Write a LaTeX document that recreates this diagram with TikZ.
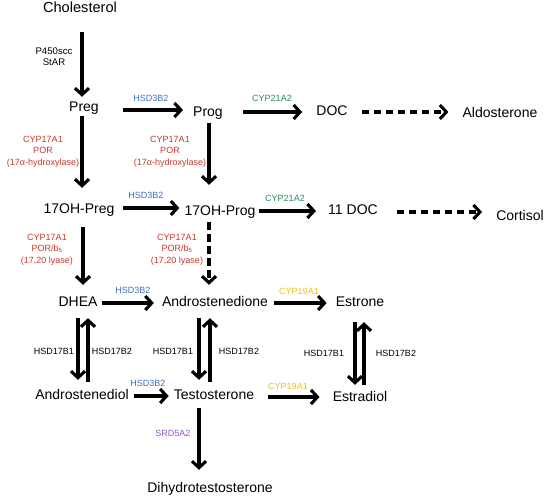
\documentclass[tikz,border=0pt]{standalone}
\usepackage{fontspec}
\setmainfont{Liberation Sans}
\usetikzlibrary{arrows.meta}
\definecolor{enzred}{RGB}{200,55,45}
\definecolor{enzblue}{RGB}{60,110,200}
\definecolor{enzgreen}{RGB}{40,140,90}
\definecolor{enzgold}{RGB}{225,195,30}
\definecolor{enzpurple}{RGB}{140,90,200}
\tikzset{
  cpd/.style={inner sep=0pt, text height=10pt, text depth=3pt, font=\fontsize{14}{16}\selectfont},
  enz/.style={inner sep=0pt, align=center, font=\fontsize{9}{11.5}\selectfont},
  arr/.style={line width=3.1pt, -{Straight Barb[length=6.5pt,width=14pt]}},
  darr/.style={arr, dash pattern=on 7.5pt off 4.5pt},
}
\begin{document}
\begin{tikzpicture}[x=1pt,y=-1pt]
\useasboundingbox (0,0) rectangle (550,500);
% compounds
\node[cpd, font=\fontsize{14.6}{16}\selectfont] (chol) at (80,9) {Cholesterol};
\node[cpd] (preg) at (84,108) {Preg};
\node[cpd] (prog) at (208,113) {Prog};
\node[cpd] (doc) at (332,112) {DOC};
\node[cpd] (aldo) at (500,114) {Aldosterone};
\node[cpd] (ohpreg) at (79,210) {17OH-Preg};
\node[cpd] (ohprog) at (220,212) {17OH-Prog};
\node[cpd] (doc11) at (353,211) {11 DOC};
\node[cpd] (cort) at (520,217) {Cortisol};
\node[cpd] (dhea) at (78,303) {DHEA};
\node[cpd] (andro) at (215,303) {Androstenedione};
\node[cpd] (estrone) at (360,303) {Estrone};
\node[cpd] (adiol) at (82,396) {Androstenediol};
\node[cpd] (testo) at (214,396) {Testosterone};
\node[cpd] (estradiol) at (360,398) {Estradiol};
\node[cpd] (dht) at (210,489) {Dihydrotestosterone};
% enzyme labels
\node[enz, font=\fontsize{9.6}{11.5}\selectfont] (scc) at (54,56.5) {P450scc\\StAR};
\node[enz, text=enzblue] (e1) at (151,98) {HSD3B2};
\node[enz, text=enzgreen] (e2) at (272,98) {CYP21A2};
\node[enz, text=enzred] (e3) at (43,151.5) {CYP17A1\\POR\\(17α-hydroxylase)};
\node[enz, text=enzred] (e4) at (170,151.5) {CYP17A1\\POR\\(17α-hydroxylase)};
\node[enz, text=enzblue] (e5) at (146,195) {HSD3B2};
\node[enz, text=enzgreen] (e6) at (285,198) {CYP21A2};
\node[enz, text=enzred] (e7) at (47,249.5) {CYP17A1\\POR/b\textsubscript{5}\\(17,20 lyase)};
\node[enz, text=enzred] (e8) at (177,249.5) {CYP17A1\\POR/b\textsubscript{5}\\(17,20 lyase)};
\node[enz, text=enzblue] (e9) at (133,290) {HSD3B2};
\node[enz, text=enzgold] (e10) at (299,291) {CYP19A1};
\node[enz] (e11) at (54,351) {HSD17B1};
\node[enz] (e12) at (112,351) {HSD17B2};
\node[enz] (e13) at (173,351) {HSD17B1};
\node[enz] (e14) at (239,351) {HSD17B2};
\node[enz] (e15) at (324,353) {HSD17B1};
\node[enz] (e16) at (396,353) {HSD17B2};
\node[enz, text=enzblue] (e17) at (148,383) {HSD3B2};
\node[enz, text=enzgold] (e18) at (288,386) {CYP19A1};
\node[enz, text=enzpurple] (e19) at (173,433) {SRD5A2};
% vertical arrows
\draw[arr, shorten <=16.5pt, shorten >=4.5pt] ([xshift=2pt]chol.south) -- ([xshift=-2pt]preg.north);
\draw[arr, shorten <=1.5pt, shorten >=15.5pt] ([xshift=-2pt]preg.south) -- ([xshift=3pt]ohpreg.north);
\draw[arr, shorten <=3.5pt, shorten >=20.5pt] ([xshift=1pt]prog.south) -- ([xshift=-11pt]ohprog.north);
\draw[arr, shorten <=10.5pt, shorten >=11.5pt] ([xshift=4pt]ohpreg.south) -- ([xshift=5pt]dhea.north);
\draw[darr, shorten <=3.5pt, shorten >=11.5pt] ([xshift=-11pt]ohprog.south) -- ([xshift=-6pt]andro.north);
\draw[arr, shorten <=8.5pt, shorten >=9.5pt] ([xshift=0pt]dhea.south) -- ([xshift=-4pt]adiol.north);
\draw[arr, shorten <=7.5pt, shorten >=8.5pt] ([xshift=6pt]adiol.north) -- ([xshift=10pt]dhea.south);
\draw[arr, shorten <=8.5pt, shorten >=9.5pt] ([xshift=-16pt]andro.south) -- ([xshift=-15pt]testo.north);
\draw[arr, shorten <=7.5pt, shorten >=8.5pt] ([xshift=-4pt]testo.north) -- ([xshift=-5pt]andro.south);
\draw[arr, shorten <=5.5pt, shorten >=12.5pt] ([xshift=-15pt]testo.south) -- ([xshift=-11pt]dht.north);
\draw[arr, shorten <=12.5pt, shorten >=6.5pt] ([xshift=-5pt]estrone.south) -- ([xshift=-5pt]estradiol.north);
\draw[arr, shorten <=6.5pt, shorten >=12.5pt] ([xshift=4pt]estradiol.north) -- ([xshift=4pt]estrone.south);
% horizontal arrows
\draw[arr, shorten <=24pt, shorten >=10pt] ([yshift=-2pt]preg.east) -- ([yshift=3pt]prog.west);
\draw[arr, shorten <=20pt, shorten >=14pt] ([yshift=1pt]prog.east) -- (doc.west);
\draw[darr, shorten <=14pt, shorten >=14pt] (doc.east) -- ([yshift=2pt]aldo.west);
\draw[arr, shorten <=8pt, shorten >=5pt] ([yshift=2pt]ohpreg.east) -- ([yshift=4pt]ohprog.west);
\draw[arr, shorten <=3pt, shorten >=12pt] ([yshift=1pt]ohprog.east) -- (doc11.west);
\draw[darr, shorten <=19pt, shorten >=14pt] ([yshift=-1pt]doc11.east) -- ([yshift=5pt]cort.west);
\draw[arr, shorten <=4pt, shorten >=8pt] (dhea.east) -- (andro.west);
\draw[arr, shorten <=6pt, shorten >=9pt] (andro.east) -- (estrone.west);
\draw[arr, shorten <=5pt, shorten >=5pt] (adiol.east) -- (testo.west);
\draw[arr, shorten <=14pt, shorten >=13pt] ([yshift=-1pt]testo.east) -- ([yshift=1pt]estradiol.west);
\end{tikzpicture}
\end{document}
